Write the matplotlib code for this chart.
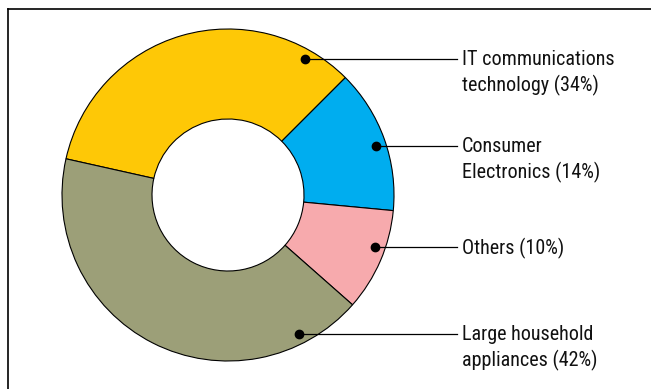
import numpy as np
import matplotlib.pyplot as plt
from matplotlib.lines import Line2D

plt.rcParams['font.family'] = ['Roboto Condensed', 'Roboto', 'DejaVu Sans']

names = ['IT communications\ntechnology', 'Consumer\nElectronics', 'Others', 'Large household\nappliances']
shares = [34, 14, 10, 42]
colors = ['#FEC806', '#00ADEF', '#F7AAAD', '#9C9F78']
# label rows (pixel rows from the top of the figure)
label_rows = [59, 146, 247, 334]

W, H = 651, 389
cx, cy = 228, H - 195
R, r_in = 166, 76

fig = plt.figure(figsize=(W / 100, H / 100), dpi=100)
ax = fig.add_axes([0, 0, 1, 1])

ax.pie(shares, colors=colors, startangle=167.4, counterclock=False,
       center=(cx, cy), radius=R, frame=True,
       wedgeprops=dict(width=R - r_in, edgecolor='black', linewidth=0.8))

line_end = 457
text_x = 462
for name, share, row in zip(names, shares, label_rows):
    y = H - row
    dy = y - cy
    x = cx + np.sqrt((0.94 * R) ** 2 - dy ** 2)
    ax.plot([x, line_end], [y, y], color='black', linewidth=0.9)
    ax.plot(x, y, 'o', color='black', markersize=6)
    ax.text(text_x, y + 9, f'{name} ({share}%)', ha='left', va='top',
            fontsize=14.5, linespacing=1.38, color='#111111')

ax.set_xlim(0, W)
ax.set_ylim(0, H)
ax.axis('off')

# frame lines along the top and left
fig.add_artist(Line2D([8 / W, 1], [1 - 9 / H, 1 - 9 / H], color='black', linewidth=1.2))
fig.add_artist(Line2D([8 / W, 8 / W], [0, 1 - 9 / H], color='black', linewidth=1.2))

fig.savefig('out.png', dpi=100)
